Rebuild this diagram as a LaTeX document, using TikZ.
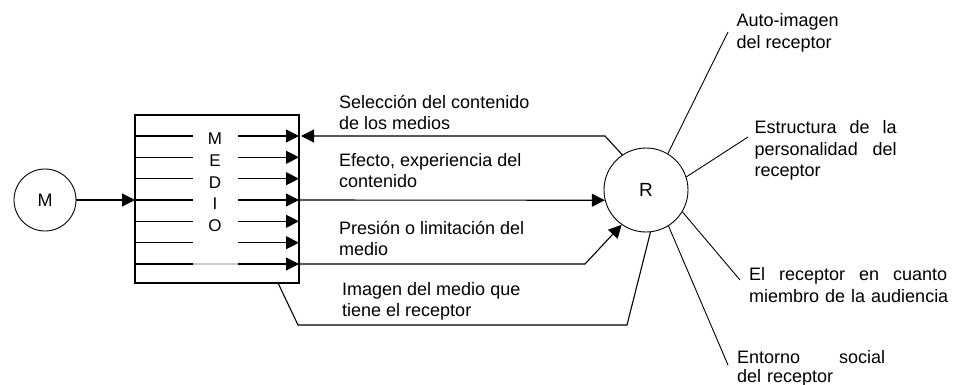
\documentclass[tikz,border=0pt]{standalone}
\usepackage{fontspec}
\setmainfont{Liberation Sans}
\usetikzlibrary{arrows.meta, calc}

\begin{document}
\begin{tikzpicture}[x=1pt, y=-1pt, >={Triangle[length=13pt, width=13pt]},
    linea/.style={line width=1.1pt},
    radio/.style={line width=0.9pt},
    texto/.style={anchor=north west, inner sep=0pt, align=left,
      font=\fontsize{18}{21.4}\selectfont, execute at begin node=\strut}]
    \useasboundingbox (0,0) rectangle (958,385);

    \node[circle, draw, radio, minimum size=62pt, font=\fontsize{18}{21.4}\selectfont] (emisor) at (45,200) {M};
    \node[draw, linea, minimum width=164pt, minimum height=168pt] (medio) at (217,199) {};
    \node[anchor=north, inner sep=0pt, align=center, font=\fontsize{17}{21.6}\selectfont,
      execute at begin node=\strut] (letras) at (215,133) {M\\E\\D\\I\\O};
    \node[circle, draw, radio, minimum size=84pt, font=\fontsize{19}{22}\selectfont] (receptor) at (646,190) {R};

    % filas del medio
    \coordinate (a1) at (135,136); \coordinate (b1) at (193,136); \coordinate (c1) at (238,136); \coordinate (d1) at (299,136);
    \coordinate (a2) at (135,157.3); \coordinate (b2) at (193,157.3); \coordinate (c2) at (238,157.3); \coordinate (d2) at (299,157.3);
    \coordinate (a3) at (135,178.7); \coordinate (b3) at (193,178.7); \coordinate (c3) at (238,178.7); \coordinate (d3) at (299,178.7);
    \coordinate (a4) at (135,200); \coordinate (b4) at (193,200); \coordinate (c4) at (238,200); \coordinate (d4) at (299,200);
    \coordinate (a5) at (135,221.3); \coordinate (b5) at (193,221.3); \coordinate (c5) at (238,221.3); \coordinate (d5) at (299,221.3);
    \coordinate (a6) at (135,242.7); \coordinate (b6) at (193,242.7); \coordinate (c6) at (238,242.7); \coordinate (d6) at (299,242.7);
    \coordinate (a7) at (135,264); \coordinate (b7) at (193,264); \coordinate (c7) at (238,264); \coordinate (d7) at (299,264);

    \draw[linea, ->] (emisor.east) -- (a4);

    \draw[linea] (a1) -- (b1);
    \draw[linea, ->] (c1) -- (d1);
    \draw[linea] (a2) -- (b2);
    \draw[linea, ->] (c2) -- (d2);
    \draw[linea] (a3) -- (b3);
    \draw[linea, ->] (c3) -- (d3);
    \draw[linea] (a4) -- (b4);
    \draw[linea, ->] (c4) -- (d4);
    \draw[linea] (a5) -- (b5);
    \draw[linea, ->] (c5) -- (d5);
    \draw[linea] (a6) -- (b6);
    \draw[linea, ->] (c6) -- (d6);
    \draw[linea] (a7) -- (b7);
    \draw[linea, black!20] (b7) -- (c7);
    \draw[linea, ->] (c7) -- (d7);

    % flujos entre medio y receptor
    \coordinate (selcodo) at (605,136);
    \coordinate (selfin) at (301,136);
    \coordinate (prescodo) at (585,264);
    \coordinate (imgini) at (278,283);
    \coordinate (imgcodo1) at (298,325);
    \coordinate (imgcodo2) at (627,325);

    \draw[linea, ->] (receptor.124) -- (selcodo) -- (selfin);
    \draw[linea, ->] (d4) -- (receptor.194);
    \draw[linea, ->] (d7) -- (prescodo) -- (receptor.235);
    \draw[linea] (imgini) -- (imgcodo1) -- (imgcodo2) -- (receptor.276);

    \node[texto] (tsel) at (339,95) {Selección del contenido\\de los medios};
    \node[texto] (tefe) at (339,153) {Efecto, experiencia del\\contenido};
    \node[texto] (tpre) at (339,221) {Presión o limitación del\\medio};
    \node[texto] (timg) at (342,282) {Imagen del medio que\\tiene el receptor};

    % factores del receptor
    \coordinate (f1) at (728,32);
    \coordinate (f2) at (748,137);
    \coordinate (f3) at (740,280);
    \coordinate (f4) at (728,365);

    \draw[radio] (receptor.59) -- (f1);
    \draw[radio] (receptor.18) -- (f2);
    \draw[radio] (receptor.-31) -- (f3);
    \draw[radio] (receptor.-58) -- (f4);

    \node[texto] (tauto) at (736.5,13.5) {Auto-imagen\\del receptor};
    \node[texto, text width=142pt] (testr) at (754.5,118.5) {Estructura\hfill de\hfill la\\personalidad\hfill del\\receptor};
    \node[texto, text width=198pt] (tmiem) at (749,265.5) {El\hfill receptor\hfill en\hfill cuanto\\\mbox{miembro de la audiencia}};
    \node[texto, text width=148pt, font=\fontsize{18}{19}\selectfont] (tento) at (737,349.5) {Entorno\hfill social\\del receptor};

  \end{tikzpicture}
\end{document}
